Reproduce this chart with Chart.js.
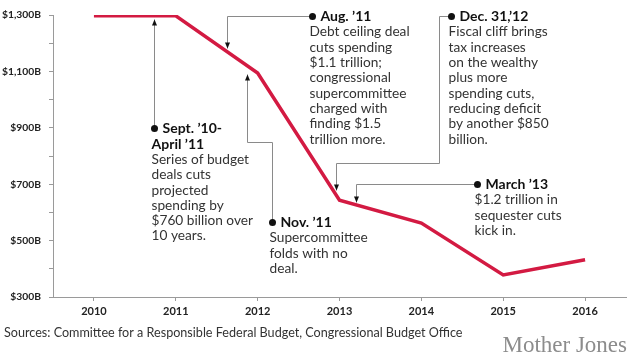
<!DOCTYPE html>
<html>
<head>
<meta charset="utf-8">
<script src="https://cdn.jsdelivr.net/npm/chart.js@4"></script>
<style>
  html, body { margin: 0; padding: 0; background: #fff; }
  #wrap { width: 630px; height: 360px; position: relative; }
</style>
</head>
<body>
<div id="wrap"><canvas id="myChart" width="630" height="360"></canvas></div>
<script>
// Данные графика

const years = [2010, 2011, 2012, 2013, 2014, 2015, 2016]
const spending = [1297, 1297, 1094, 643, 562, 378, 432]
const yTicks = [300, 400, 500, 600, 700, 800, 900, 1000, 1100, 1200, 1300]
const yLabels = ['$300B', '', '$500B', '', '$700B', '', '$900B', '', '$1,100B', '', '$1,300B']

// Подписи: путь стрелки в единицах осей (первая точка — кружок, последняя — стрелка)
const notes = [
    {
        path: [[2010.733, 899], [2010.733, 1286]],
        title: ['Sept. \u201910-', 'April \u201911'],
        body: ['Series of budget', 'deals cuts', 'projected', 'spending by', '$760 billion over', '10 years.']
    },
    {
        path: [[2012.665, 1296], [2011.626, 1296], [2011.626, 1183]],
        title: ['Aug. \u201911'],
        body: ['Debt ceiling deal', 'cuts spending', '$1.1 trillion;', 'congressional', 'supercommittee', 'charged with', 'finding $1.5', 'trillion more.']
    },
    {
        path: [[2014.364, 1296], [2014.218, 1296], [2014.218, 775], [2012.958, 775], [2012.958, 679]],
        title: ['Dec. 31,\u201912'],
        body: ['Fiscal cliff brings', 'tax increases', 'on the wealthy', 'plus more', 'spending cuts,', 'reducing deficit', 'by another $850', 'billion.']
    },
    {
        path: [[2012.176, 566], [2012.176, 850], [2011.870, 850], [2011.870, 1091]],
        title: ['Nov. \u201911'],
        body: ['Supercommittee', 'folds with no', 'deal.']
    },
    {
        path: [[2014.682, 701], [2013.203, 701], [2013.203, 637]],
        title: ['March \u201913'],
        body: ['$1.2 trillion in', 'sequester cuts', 'kick in.']
    }
]

const FONT = 'Lato, "Open Sans", sans-serif'

// Плагин подписей со стрелками
const notesPlugin = {
    id: 'notes',
    afterDatasetsDraw(chart) {
        const ctx = chart.ctx
        const sx = chart.scales.x
        const sy = chart.scales.y
        ctx.save()
        notes.forEach(n => {
            const pts = n.path.map(p => [Math.round(sx.getPixelForValue(p[0])) + 0.5, Math.round(sy.getPixelForValue(p[1])) + 0.5])
            // линия
            ctx.strokeStyle = '#8a8a8a'
            ctx.lineWidth = 1
            ctx.beginPath()
            pts.forEach((p, i) => i ? ctx.lineTo(p[0], p[1]) : ctx.moveTo(p[0], p[1]))
            ctx.stroke()
            // стрелка
            const a = pts[pts.length - 1]
            const b = pts[pts.length - 2]
            const ang = Math.atan2(a[1] - b[1], a[0] - b[0])
            ctx.fillStyle = '#111'
            ctx.beginPath()
            ctx.moveTo(a[0], a[1])
            ctx.lineTo(a[0] - 6 * Math.cos(ang) + 2.5 * Math.sin(ang), a[1] - 6 * Math.sin(ang) - 2.5 * Math.cos(ang))
            ctx.lineTo(a[0] - 6 * Math.cos(ang) - 2.5 * Math.sin(ang), a[1] - 6 * Math.sin(ang) + 2.5 * Math.cos(ang))
            ctx.closePath()
            ctx.fill()
            // кружок
            const d = pts[0]
            ctx.beginPath()
            ctx.arc(d[0], d[1], 3.5, 0, Math.PI * 2)
            ctx.fill()
            // текст
            ctx.textBaseline = 'middle'
            ctx.textAlign = 'left'
            let y = d[1]
            n.title.forEach((t, i) => {
                ctx.font = 'bold 14px ' + FONT
                ctx.fillStyle = '#111'
                ctx.fillText(t, i ? d[0] - 3 : d[0] + 8, y)
                y += 15.5
            })
            n.body.forEach(t => {
                ctx.font = '13.7px ' + FONT
                ctx.fillStyle = '#333'
                ctx.fillText(t, d[0] - 3, y)
                y += 15.3
            })
        })
        ctx.restore()
    },
    afterDraw(chart) {
        const ctx = chart.ctx
        ctx.save()
        ctx.textBaseline = 'middle'
        ctx.font = '12.6px ' + FONT
        ctx.fillStyle = '#333'
        ctx.fillText('Sources: Committee for a Responsible Federal Budget, Congressional Budget Office', 4, 333)
        ctx.font = '23px "Liberation Serif", "DejaVu Serif", serif'
        ctx.fillStyle = '#8c8c8c'
        ctx.textAlign = 'right'
        ctx.fillText('Mother Jones', 627, 346)
        ctx.restore()
    }
}

// Построение графика

const ctx = document.getElementById('myChart').getContext('2d')

const myChart = new Chart(ctx, {
    type: 'line',
    data: {
        datasets: [{
            data: years.map((y, i) => ({ x: y, y: spending[i] })),
            borderColor: '#d31a42',
            borderWidth: 3.5,
            pointRadius: 0,
            tension: 0,
            fill: false
        }]
    },
    options: {
        responsive: false,
        animation: false,
        layout: { padding: { top: 15, right: 4, left: 0, bottom: 0 } },
        plugins: {
            legend: { display: false },
            tooltip: { enabled: false }
        },
        scales: {
            x: {
                type: 'linear',
                min: 2009.5,
                max: 2016.5,
                afterBuildTicks: s => { s.ticks = years.map(v => ({ value: v })) },
                afterFit: s => { s.height = 63 },
                border: { color: '#9a9a9a', width: 1 },
                grid: { drawOnChartArea: false, tickLength: 4, color: '#9a9a9a' },
                ticks: {
                    autoSkip: false,
                    maxRotation: 0,
                    padding: 4,
                    color: '#222',
                    font: { family: FONT, size: 11, weight: 'bold' },
                    callback: v => String(v)
                }
            },
            y: {
                min: 300,
                max: 1300,
                afterBuildTicks: s => { s.ticks = yTicks.map(v => ({ value: v })) },
                afterFit: s => { s.width = 53 },
                border: { color: '#9a9a9a', width: 1 },
                grid: { drawOnChartArea: false, tickLength: 4, color: '#9a9a9a' },
                ticks: {
                    autoSkip: false,
                    padding: 8,
                    color: '#222',
                    font: { family: FONT, size: 10.3, weight: 'bold' },
                    callback: (v, i) => yLabels[i]
                }
            }
        }
    },
    plugins: [notesPlugin]
})
</script>
</body>
</html>
